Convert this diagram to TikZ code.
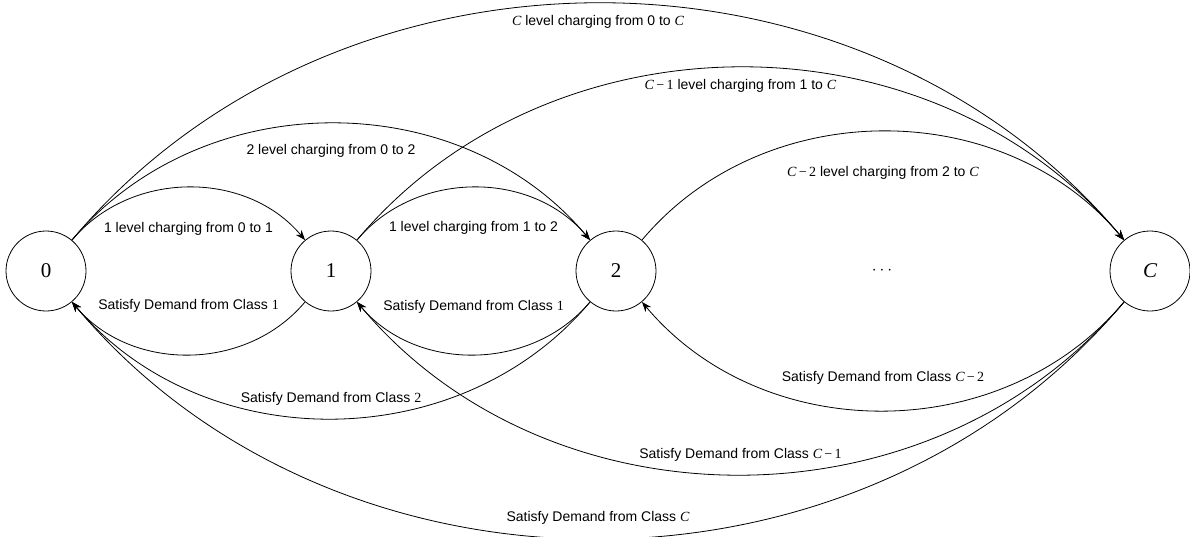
\documentclass[tikz,border=0pt]{standalone}
\usepackage{fontspec}
\setmainfont{Liberation Sans}
\newfontfamily\tms{Liberation Serif}
\newcommand{\vC}{{\tms\itshape C}}
\newcommand{\vn}[1]{{\tms #1}}
\newcommand{\vCm}[1]{\vC\,{\tms −}\,\vn{#1}}
\usetikzlibrary{arrows.meta}
\begin{document}
\begin{tikzpicture}[x=1pt,y=-1pt,
  state/.style={circle,draw,line width=0.8pt,minimum size=80pt,inner sep=0pt,font=\tms\fontsize{21}{24}\selectfont},
  lbl/.style={font=\fontsize{14}{16}\selectfont,inner sep=0pt},
  arc/.style={line width=0.8pt,-{Stealth[length=10pt,width=7.5pt]}},
]
\useasboundingbox (0,0) rectangle (1190,536);
\node[state] (n0) at (46,271) {0};
\node[state] (n1) at (331,271) {1};
\node[state] (n2) at (616,271) {2};
\node[state] (nC) at (1150,271) {\itshape C};
\node[font=\fontsize{16}{18}\selectfont] (dots) at (882,271) {$\cdots$};
% charging arcs (top)
\draw[arc] (n0.50) .. controls +(50:91.5pt) and +(130:91.5pt) .. node[lbl,yshift=-41pt]{1 level charging from 0 to 1} (n1.130);
\draw[arc] (n1.50) .. controls +(50:91.5pt) and +(130:91.5pt) .. node[lbl,yshift=-40pt]{1 level charging from 1 to 2} (n2.130);
\draw[arc] (n0.50) .. controls +(50:203pt) and +(130:203pt) .. node[lbl,yshift=-27pt]{2 level charging from 0 to 2} (n2.130);
\draw[arc] (n1.50) .. controls +(50:300.5pt) and +(130:300.5pt) .. node[lbl,yshift=-18pt]{\vCm{1} level charging from 1 to \vC} (nC.130);
\draw[arc] (n0.50) .. controls +(50:412pt) and +(130:412pt) .. node[lbl,yshift=-19pt]{\vC{} level charging from 0 to \vC} (nC.130);
\draw[arc] (n2.50) .. controls +(50:189pt) and +(130:189pt) .. node[lbl,yshift=-41pt]{\vCm{2} level charging from 2 to \vC} (nC.130);
% demand arcs (bottom)
\draw[arc] (n1.230) .. controls +(230:91.5pt) and +(310:91.5pt) .. node[lbl,yshift=49pt]{Satisfy Demand from Class \vn{1}} (n0.310);
\draw[arc] (n2.230) .. controls +(230:91.5pt) and +(310:91.5pt) .. node[lbl,yshift=48pt]{Satisfy Demand from Class \vn{1}} (n1.310);
\draw[arc] (n2.230) .. controls +(230:203pt) and +(310:203pt) .. node[lbl,yshift=20pt]{Satisfy Demand from Class \vn{2}} (n0.310);
\draw[arc] (nC.230) .. controls +(230:189pt) and +(310:189pt) .. node[lbl,yshift=33pt]{Satisfy Demand from Class \vCm{2}} (n2.310);
\draw[arc] (nC.230) .. controls +(230:300.5pt) and +(310:300.5pt) .. node[lbl,yshift=20pt]{Satisfy Demand from Class \vCm{1}} (n1.310);
\draw[arc] (nC.230) .. controls +(230:412pt) and +(310:412pt) .. node[lbl,yshift=21pt]{Satisfy Demand from Class \vC} (n0.310);
\end{tikzpicture}
\end{document}
